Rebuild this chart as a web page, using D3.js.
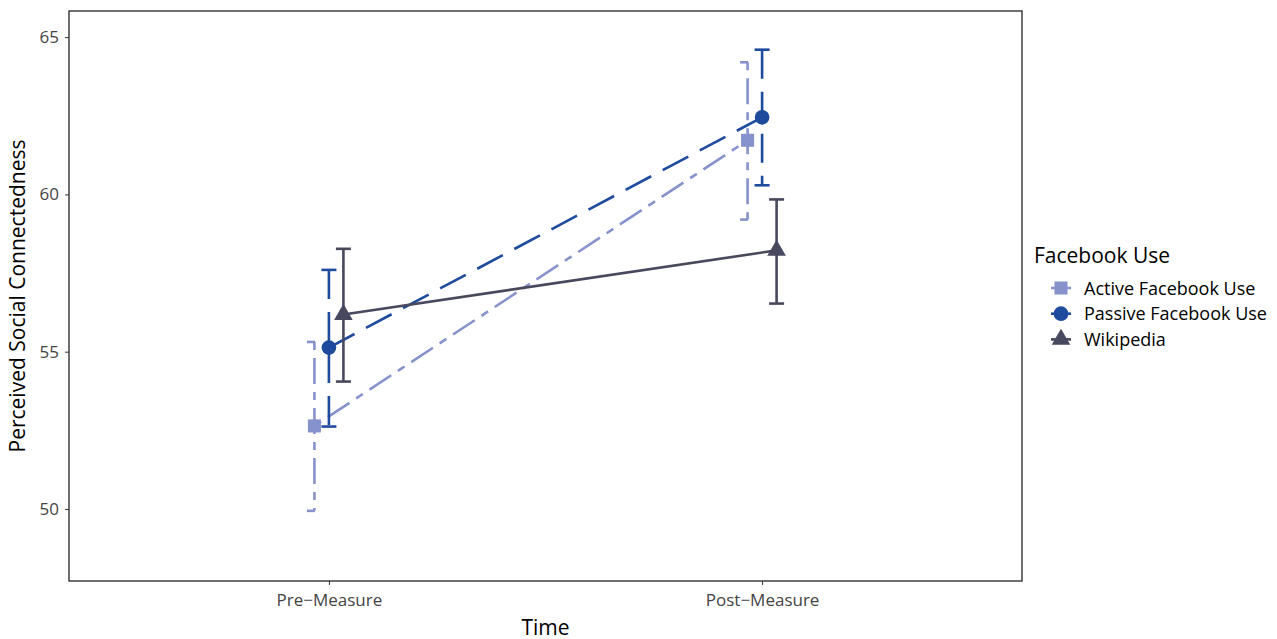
<!DOCTYPE html>
<html>
<head>
<meta charset="utf-8">
<script src="https://cdn.jsdelivr.net/npm/d3@7"></script>
<style>
  body { margin: 0; background: #fff; }
  text { font-family: "Open Sans", sans-serif; }
</style>
</head>
<body>
<div id="chart"></div>
<script>
// data
const timePoints = ["Pre\u2212Measure", "Post\u2212Measure"];
const groups = ["Active Facebook Use", "Passive Facebook Use", "Wikipedia"];
const activeMean = [52.64, 61.72];
const activeLow = [49.94, 59.2];
const activeHigh = [55.31, 64.2];
const passiveMean = [55.13, 62.45];
const passiveLow = [52.62, 60.29];
const passiveHigh = [57.6, 64.6];
const wikiMean = [56.18, 58.22];
const wikiLow = [54.05, 56.53];
const wikiHigh = [58.27, 59.84];
const yTicks = [50, 55, 60, 65];

const series = [
  { name: groups[0], mean: activeMean, low: activeLow, high: activeHigh,
    color: "#8692cb", dash: "8,8,26,8", shape: d3.symbolSquare },
  { name: groups[1], mean: passiveMean, low: passiveLow, high: passiveHigh,
    color: "#1e4b9d", dash: "29,13", shape: d3.symbolCircle },
  { name: groups[2], mean: wikiMean, low: wikiLow, high: wikiHigh,
    color: "#48485e", dash: null, shape: d3.symbolTriangle }
];

const W = 1277, H = 639;
const margin = { top: 11, right: 255, bottom: 58, left: 69 };

const svg = d3.select("#chart").append("svg")
  .attr("width", W)
  .attr("height", H);

const x = d3.scalePoint()
  .domain(timePoints)
  .range([margin.left, W - margin.right])
  .padding(0.6);

const dodge = d3.scalePoint()
  .domain(groups)
  .range([-14.5, 14.5]);

const y = d3.scaleLinear()
  .domain([47.71, 65.83])
  .range([H - margin.bottom, margin.top]);

// axes
const xAxis = svg.append("g")
  .attr("transform", `translate(0,${H - margin.bottom})`)
  .call(d3.axisBottom(x).tickSize(4).tickPadding(9));
const yAxis = svg.append("g")
  .attr("transform", `translate(${margin.left},0)`)
  .call(d3.axisLeft(y).tickValues(yTicks).tickSize(4).tickPadding(6));

[xAxis, yAxis].forEach(g => {
  g.select(".domain").remove();
  g.selectAll(".tick line").attr("stroke", "#333").attr("stroke-width", 1);
  g.selectAll(".tick text")
    .attr("fill", "#444")
    .style("font-size", "17px");
});

// panel border
svg.append("rect")
  .attr("x", margin.left)
  .attr("y", margin.top)
  .attr("width", W - margin.right - margin.left)
  .attr("height", H - margin.bottom - margin.top)
  .attr("fill", "none")
  .attr("stroke", "#222")
  .attr("stroke-width", 1.3);

const px = (s, i) => x(timePoints[i]) + dodge(s.name);
const capHalf = 7.5;

series.forEach(s => {
  const g = svg.append("g");
  const line = d3.line()
    .x((d, i) => px(s, i))
    .y(d => y(d));

  g.append("path")
    .datum(s.mean)
    .attr("fill", "none")
    .attr("stroke", s.color)
    .attr("stroke-width", 2.6)
    .attr("stroke-dasharray", s.dash)
    .attr("d", line);

  // error bars, caps and stem drawn as separate pieces
  timePoints.forEach((t, i) => {
    const cx = px(s, i);
    const pieces = [
      [[cx - capHalf, y(s.high[i])], [cx + capHalf, y(s.high[i])]],
      [[cx, y(s.high[i])], [cx, y(s.low[i])]],
      [[cx - capHalf, y(s.low[i])], [cx + capHalf, y(s.low[i])]]
    ];
    pieces.forEach(p => {
      g.append("path")
        .attr("d", d3.line()(p))
        .attr("fill", "none")
        .attr("stroke", s.color)
        .attr("stroke-width", 2.6)
        .attr("stroke-dasharray", s.dash);
    });
  });

  g.selectAll(".pt")
    .data(s.mean)
    .join("path")
    .attr("transform", (d, i) => `translate(${px(s, i)},${y(d)})`)
    .attr("d", d3.symbol().type(s.shape).size(s.shape === d3.symbolTriangle ? 150 : 170))
    .attr("fill", s.color);
});

// axis titles
svg.append("text")
  .attr("x", (margin.left + W - margin.right) / 2)
  .attr("y", 635)
  .attr("text-anchor", "middle")
  .style("font-size", "21px")
  .text("Time");

svg.append("text")
  .attr("transform", `translate(25,${(margin.top + H - margin.bottom) / 2}) rotate(-90)`)
  .attr("text-anchor", "middle")
  .style("font-size", "21px")
  .text("Perceived Social Connectedness");

// legend
const legend = svg.append("g").attr("transform", "translate(1034,0)");
legend.append("text")
  .attr("x", 0)
  .attr("y", 263)
  .style("font-size", "21px")
  .text("Facebook Use");

series.forEach((s, i) => {
  const ly = 288 + i * 25.7;
  legend.append("line")
    .attr("x1", 17).attr("x2", 37)
    .attr("y1", ly).attr("y2", ly)
    .attr("stroke", s.color)
    .attr("stroke-width", 2.6)
    .attr("stroke-dasharray", s.dash);
  legend.append("path")
    .attr("transform", `translate(27,${ly})`)
    .attr("d", d3.symbol().type(s.shape).size(s.shape === d3.symbolTriangle ? 150 : 170))
    .attr("fill", s.color);
  legend.append("text")
    .attr("x", 50)
    .attr("y", ly + 6.5)
    .style("font-size", "18px")
    .text(s.name);
});
</script>
</body>
</html>
